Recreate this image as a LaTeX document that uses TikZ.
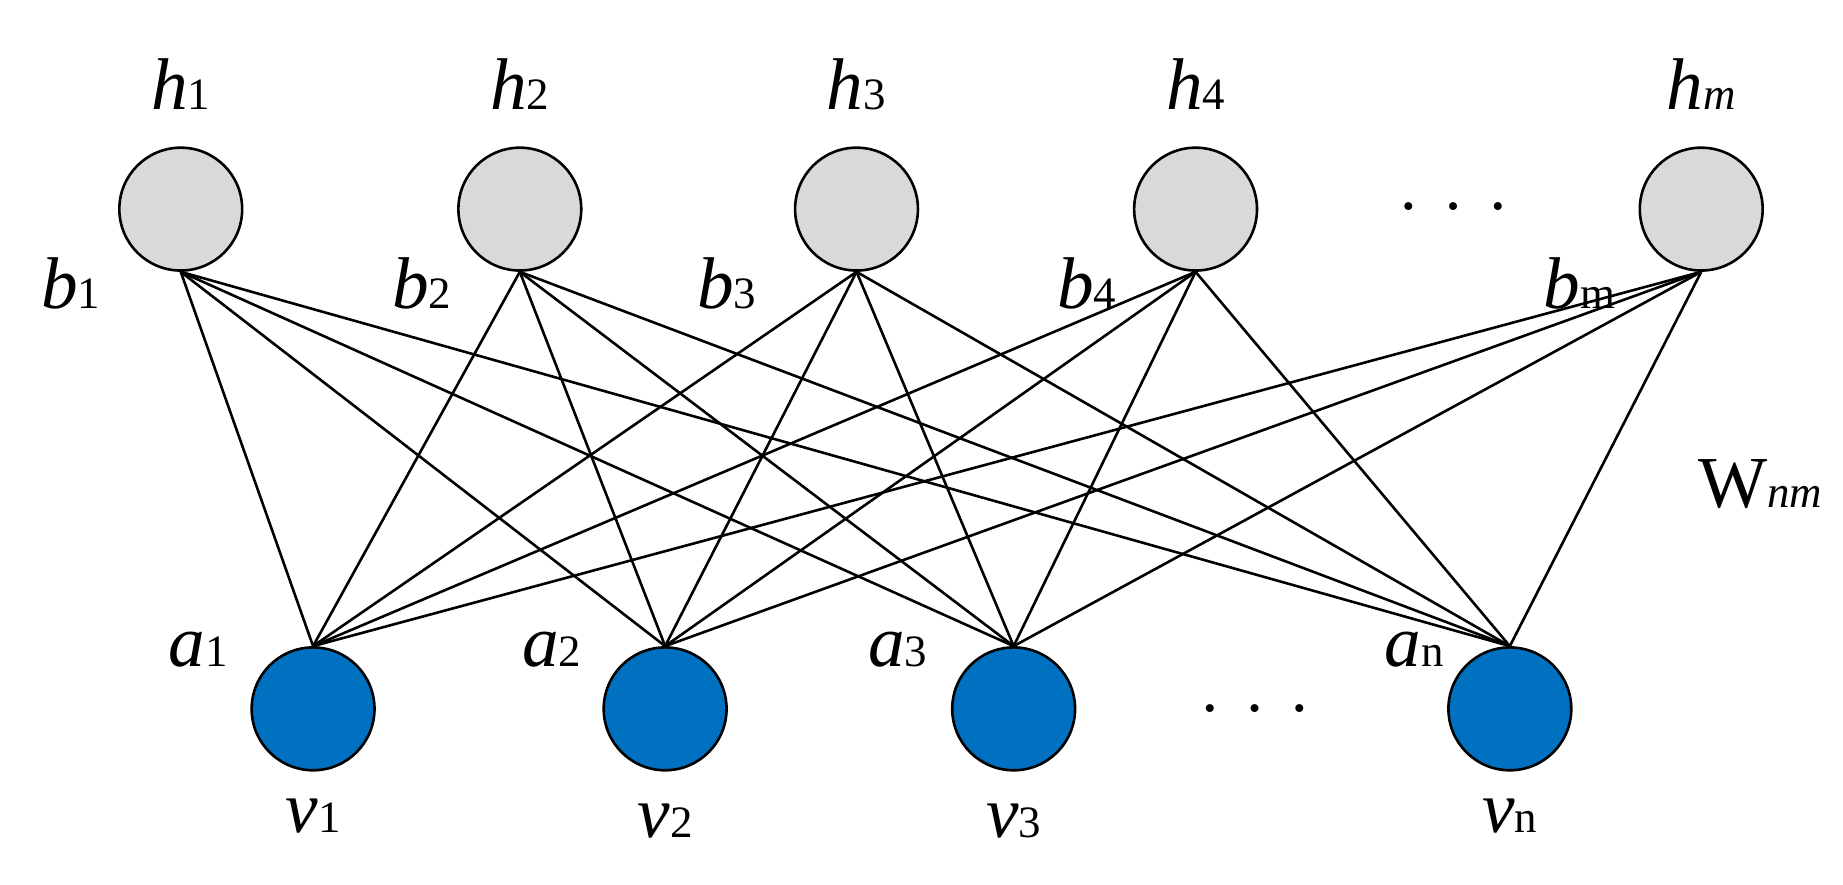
\documentclass[tikz,border=0pt]{standalone}
\usepackage{fontspec}
\setmainfont{Liberation Serif}
\usetikzlibrary{positioning}
\definecolor{visblue}{RGB}{0,112,192}
\definecolor{hidgray}{RGB}{217,217,217}
\newcommand{\lbl}[2]{\textit{#1}{\fontsize{19}{19}\selectfont #2}}
\newcommand{\spdots}{\textbullet\hspace{14pt}\textbullet\hspace{14pt}\textbullet}
\begin{document}
\begin{tikzpicture}[x=0.5pt,y=-0.5pt,
    font=\fontsize{31}{31}\selectfont,
    hidden/.style ={circle, draw=black, line width=1.1pt, fill=hidgray, minimum size=52pt, inner sep=0pt},
    visible/.style ={circle, draw=black, line width=1.1pt, fill=visblue, minimum size=52pt, inner sep=0pt},
    line/.style ={draw, line width=1.1pt}]
    \useasboundingbox (0,0) rectangle (1560,749);
    % hidden layer
    \node [hidden] (h1) at (153,177) {};
    \node [hidden] (h2) at (440,177) {};
    \node [hidden] (h3) at (725,177) {};
    \node [hidden] (h4) at (1012,177) {};
    \node [hidden] (hm) at (1440,177) {};
    % visible layer
    \node [visible] (v1) at (265,600) {};
    \node [visible] (v2) at (563,600) {};
    \node [visible] (v3) at (858,600) {};
    \node [visible] (vn) at (1278,600) {};
    % labels
    \node [above=12pt of h1] (lh1) {\lbl{h}{1}};
    \node [above=12pt of h2] (lh2) {\lbl{h}{2}};
    \node [above=12pt of h3] (lh3) {\lbl{h}{3}};
    \node [above=12pt of h4] (lh4) {\lbl{h}{4}};
    \node [above=12pt of hm] (lhm) {\textit{h}{\fontsize{19}{19}\selectfont\textit{m}}};
    \node (lb1) at (60,240) {\lbl{b}{1}};
    \node (lb2) at (357,240) {\lbl{b}{2}};
    \node (lb3) at (615,240) {\lbl{b}{3}};
    \node (lb4) at (920,240) {\lbl{b}{4}};
    \node (lbm) at (1337,240) {\lbl{b}{m}};
    \node (la1) at (168,550) {\lbl{a}{1}};
    \node (la2) at (467,550) {\lbl{a}{2}};
    \node (la3) at (760,550) {\lbl{a}{3}};
    \node (lan) at (1197,550) {\lbl{a}{n}};
    \node [below=8pt of v1] (lv1) {\lbl{v}{1}};
    \node [below=10pt of v2] (lv2) {\lbl{v}{2}};
    \node [below=10pt of v3] (lv3) {\lbl{v}{3}};
    \node [below=8pt of vn] (lvn) {\lbl{v}{n}};
    \node [font=\fontsize{14}{14}\selectfont] (dotsh) at (1230,178) {\spdots};
    \node [font=\fontsize{14}{14}\selectfont] (dotsv) at (1062,603) {\spdots};
    \node (wnm) at (1490,410) {W{\fontsize{19}{19}\selectfont\textit{nm}}};
    % connections
    \foreach \h in {h1,h2,h3,h4,hm}
      \foreach \v in {v1,v2,v3,vn}
        \path [line] (\h.south) -- (\v.north);
\end{tikzpicture}
\end{document}
